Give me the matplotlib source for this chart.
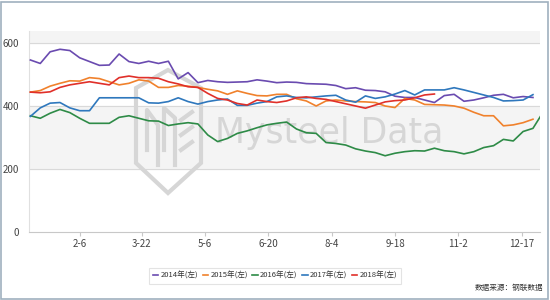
import matplotlib
matplotlib.use("Agg")
import matplotlib.pyplot as plt
from matplotlib.patches import Rectangle, Polygon
from matplotlib.lines import Line2D

plt.rcParams['font.family'] = ['Liberation Sans Narrow', 'Noto Sans CJK SC', 'DejaVu Sans']

# ---- data ----
series_names = ["2014年(左)", "2015年(左)", "2016年(左)", "2017年(左)", "2018年(左)"]
series_colors = ["#6a4bb0", "#f0812c", "#2e8b47", "#2f78bd", "#e0302a"]

v2014 = [547, 536, 573, 581, 577, 554, 542, 530, 531, 566, 542, 536, 543, 536, 543, 487,
         507, 475, 482, 478, 476, 477, 478, 484, 480, 475, 477, 476, 472, 471, 470, 466,
         456, 459, 451, 450, 446, 432, 428, 428, 420, 412, 434, 438, 416, 420, 427, 435,
         438, 427, 431, 428]
v2015 = [445, 450, 464, 473, 481, 480, 491, 488, 478, 468, 473, 484, 480, 460, 460, 466,
         464, 460, 454, 449, 438, 449, 441, 434, 433, 438, 438, 424, 417, 401, 417, 420,
         417, 415, 414, 412, 401, 396, 425, 420, 406, 405, 404, 401, 394, 381, 370, 370,
         338, 341, 348, 359]
v2016 = [370, 362, 378, 390, 380, 362, 346, 346, 346, 365, 370, 362, 354, 353, 339, 344,
         348, 344, 309, 288, 298, 314, 322, 332, 341, 346, 350, 328, 316, 314, 285, 282,
         277, 265, 258, 253, 243, 251, 256, 259, 258, 267, 259, 256, 249, 256, 269, 275,
         295, 290, 320, 330, 380]
v2017 = [368, 395, 410, 412, 395, 386, 386, 427, 427, 427, 427, 427, 411, 410, 415, 427,
         415, 407, 415, 420, 423, 403, 403, 410, 415, 430, 433, 428, 427, 430, 433, 435,
         420, 413, 433, 425, 430, 439, 450, 436, 452, 452, 452, 459, 452, 444, 436, 428,
         417, 418, 420, 437]
v2018 = [445, 443, 446, 460, 468, 473, 478, 473, 468, 491, 496, 491, 491, 489, 478, 471,
         462, 460, 441, 425, 420, 409, 404, 420, 415, 412, 417, 427, 430, 425, 422, 415,
         408, 401, 394, 404, 414, 418, 420, 427, 436, 439]
all_values = [v2014, v2015, v2016, v2017, v2018]

tick_days = [37, 81, 126, 171, 216, 261, 306, 351]
tick_labels = ["2-6", "3-22", "5-6", "6-20", "8-4", "9-18", "11-2", "12-17"]
y_ticks = [0, 200, 400, 600]
first_day = 2
week = 7

# ---- figure ----
fig = plt.figure(figsize=(5.5, 3.0), dpi=100)
fig.patch.set_facecolor("white")
ax = fig.add_axes([29/550, 1-232.3/300, (540-29)/550, (232.3-30.7)/300])
ax.set_xlim(1, 364)
ax.set_ylim(0, 640)

# alternating bands
ax.axhspan(200, 400, color="#f4f4f4", zorder=0)
ax.axhspan(600, 640, color="#f4f4f4", zorder=0)
for yv in [200, 400, 600]:
    ax.axhline(yv, color="#d9d9d9", lw=0.8, zorder=1)

# watermark (drawn inside the axes, between bands and lines)
ax.text(329/550, 1-143/300, "Mysteel Data", fontsize=25, transform=fig.transFigure,
        color="#d6d6d6", ha="center", va="baseline", zorder=1.5,
        family=['Liberation Sans Narrow', 'DejaVu Sans'], clip_on=False)
def fpx(x, y):
    return (x/550, 1-y/300)
hexpts = [fpx(168, 70), fpx(201, 88), fpx(201, 163), fpx(168, 193), fpx(136, 163), fpx(136, 88)]
ax.add_patch(Polygon(hexpts, closed=True, fill=False, ec="#d6d6d6", lw=3,
                     transform=fig.transFigure, zorder=1.5, clip_on=False))
for seg in [[(147, 150), (147, 110), (158, 125), (158, 165)],
            [(164, 150), (164, 108), (175, 118), (175, 165)],
            [(181, 120), (192, 112)], [(181, 135), (192, 127)], [(181, 150), (192, 142)]]:
    xs = [p[0]/550 for p in seg]
    ys = [1-p[1]/300 for p in seg]
    ax.add_line(Line2D(xs, ys, color="#d6d6d6", lw=3, transform=fig.transFigure,
                       zorder=1.5, clip_on=False))

for name, color, vals in zip(series_names, series_colors, all_values):
    days = [first_day + week*i for i in range(len(vals))]
    ax.plot(days, vals, color=color, lw=1.2, label=name, zorder=3)

ax.set_xticks(tick_days)
ax.set_xticklabels(tick_labels)
ax.set_yticks(y_ticks)
ax.tick_params(axis="x", length=3, color="#c8c8c8", labelsize=7, labelcolor="#444444", pad=2)
ax.tick_params(axis="y", length=0, labelsize=7, labelcolor="#444444", pad=7)
for s in ["top", "right"]:
    ax.spines[s].set_visible(False)
ax.spines["left"].set_color("#e0e0e0")
ax.spines["bottom"].set_color("#c8c8c8")
ax.spines["left"].set_linewidth(0.8)
ax.spines["bottom"].set_linewidth(0.8)

leg = fig.legend(loc="center", bbox_to_anchor=(275/550, 1-276/300), ncol=5,
                 fontsize=5.5, frameon=True, handlelength=0.7, handletextpad=0.3,
                 columnspacing=0.6, borderpad=0.5, fancybox=False)
leg.get_frame().set_edgecolor("#dddddd")
leg.get_frame().set_linewidth(0.8)
for t in leg.get_texts():
    t.set_color("#333333")

fig.text(543/550, 1-288/300, "数据来源：钢联数据", ha="right", va="center", fontsize=5.5,
         color="#333333", family=['Noto Sans CJK SC', 'DejaVu Sans'])

fig.patches.append(Rectangle((0.002, 0.004), 0.994, 0.99, fill=False, ec="#9fb0bf", lw=1.2,
                             transform=fig.transFigure))

fig.savefig("out.png", dpi=100)
